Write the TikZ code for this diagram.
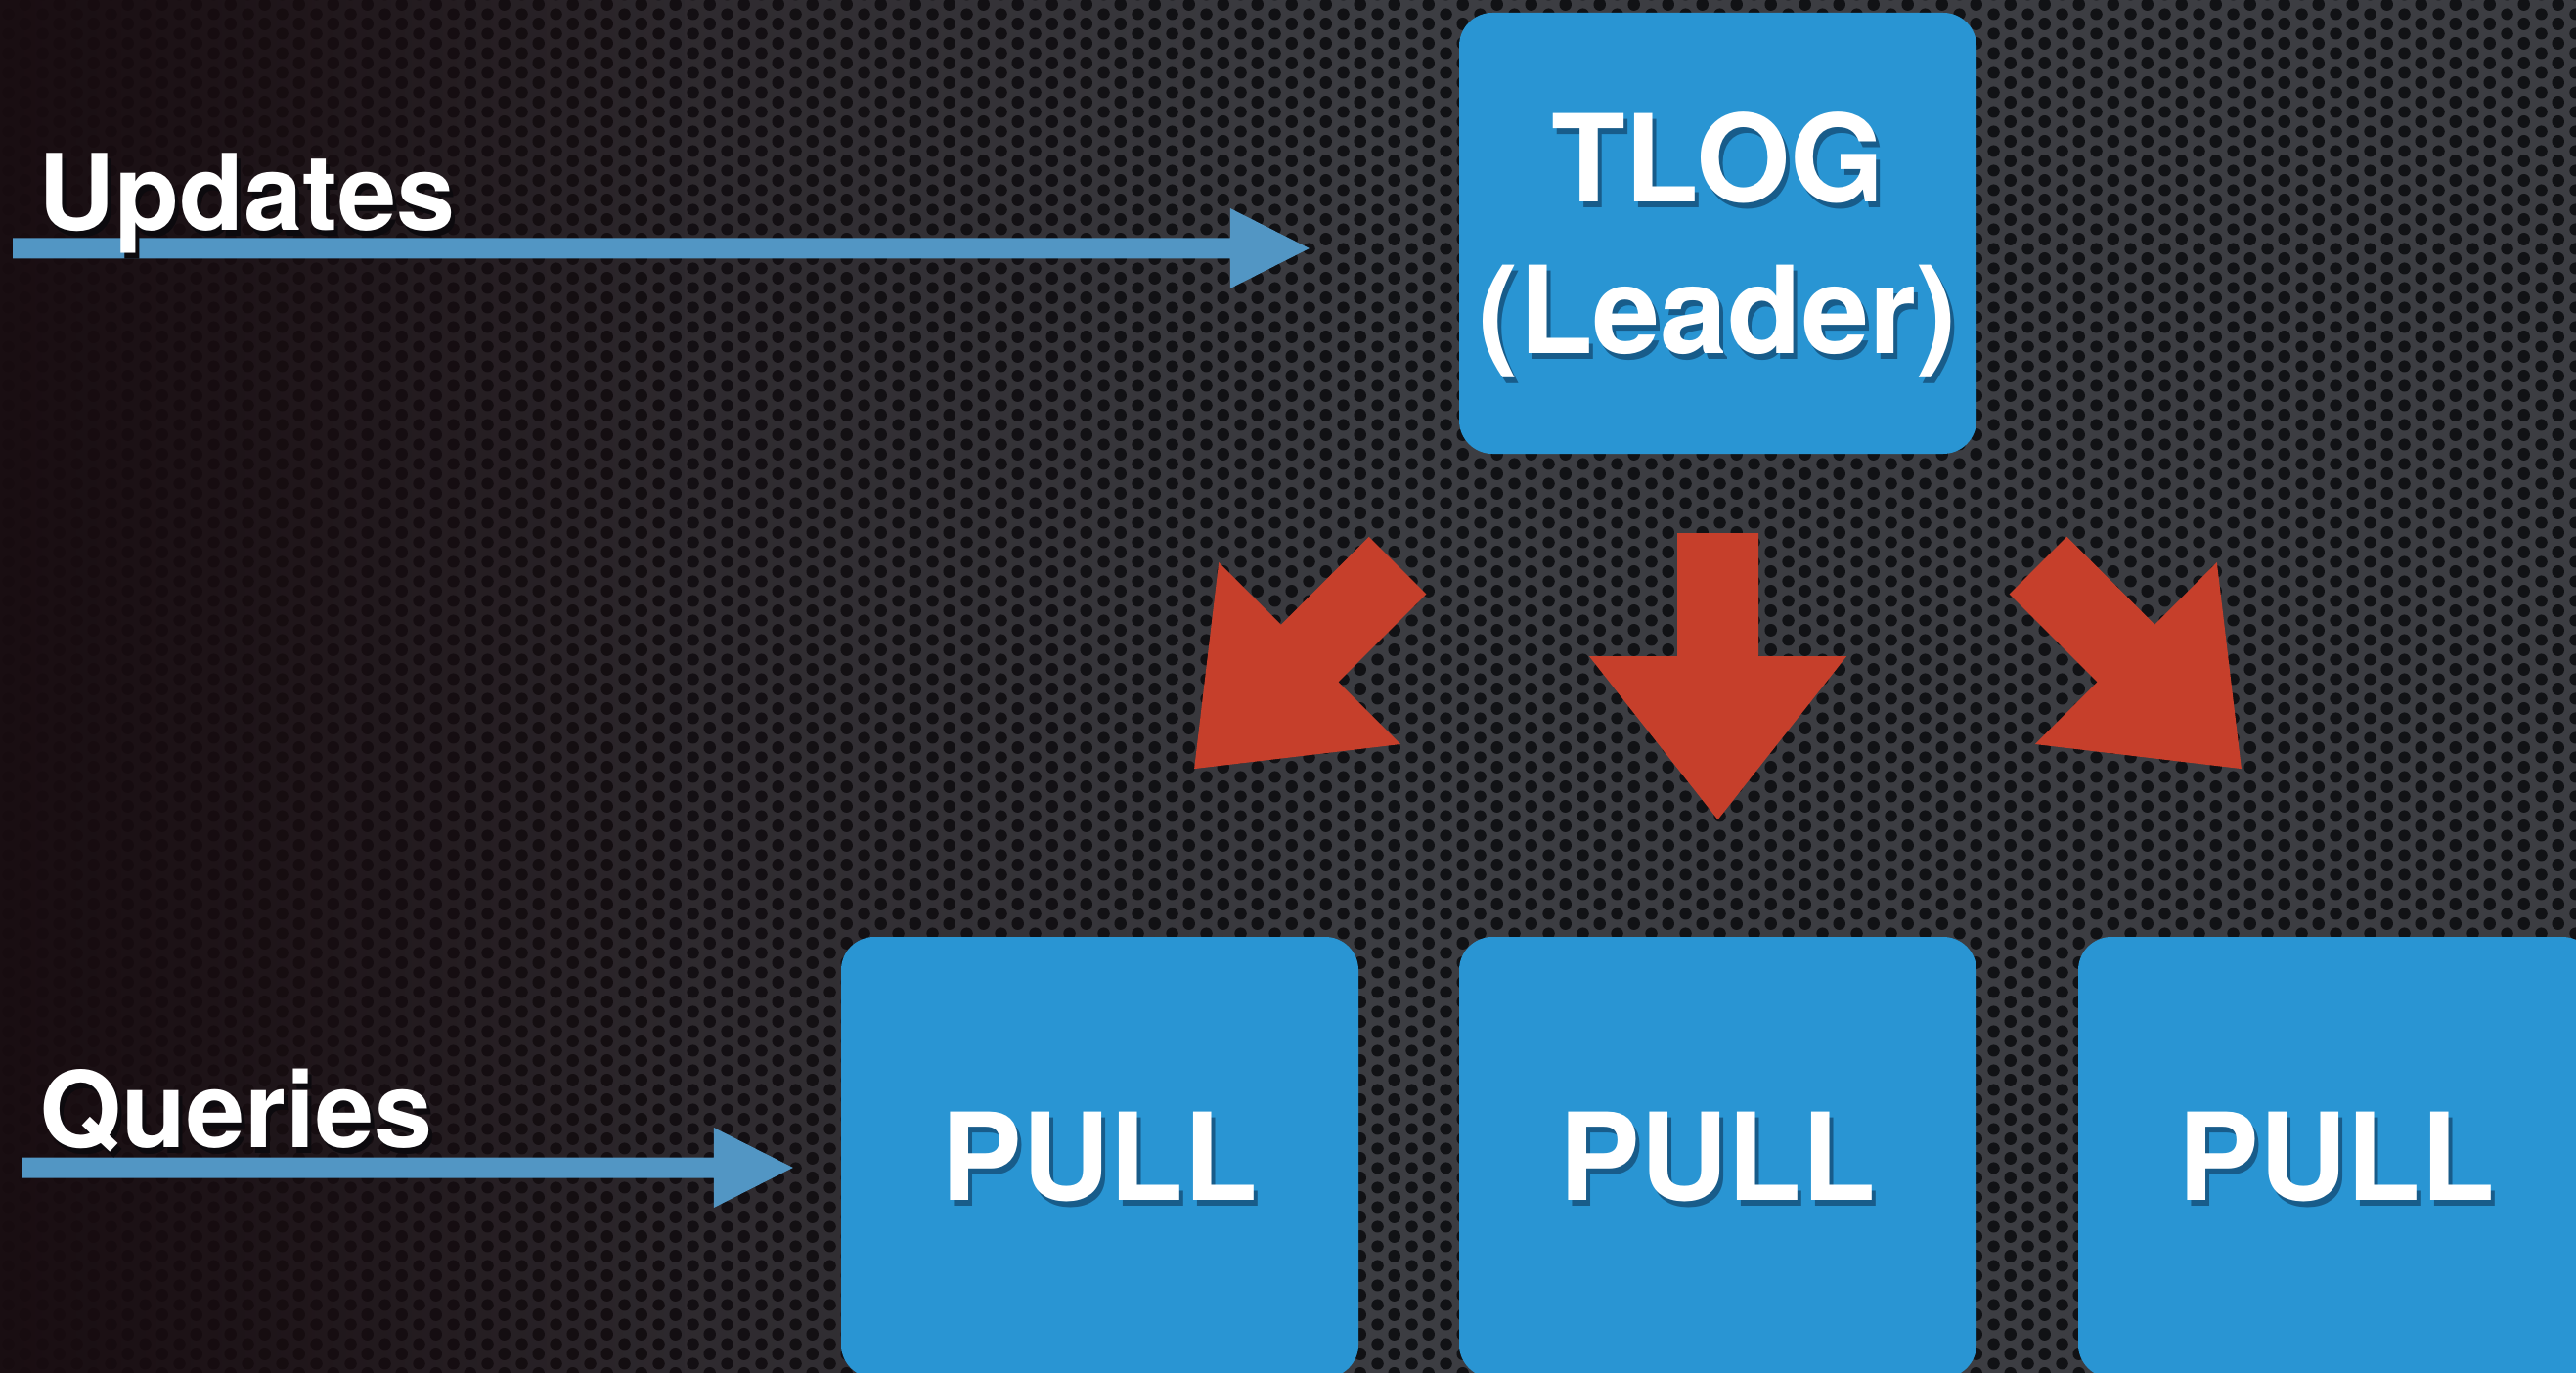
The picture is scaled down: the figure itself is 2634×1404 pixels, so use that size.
\documentclass[tikz,border=0pt]{standalone}
\usepackage{fontspec}
\setmainfont{TeX Gyre Heros}
\usetikzlibrary{calc,patterns,fadings}

\definecolor{platebase}{RGB}{60,61,66}
\definecolor{platehole}{RGB}{17,18,21}
\definecolor{shadebrown}{RGB}{24,12,16}
\definecolor{boxblue}{RGB}{41,149,211}
\definecolor{flowblue}{RGB}{82,150,196}
\definecolor{fanred}{RGB}{198,63,43}
\definecolor{boxshadow}{RGB}{24,92,138}
\definecolor{plateshadow}{RGB}{12,10,14}

% hexagonal grid of round holes (perforated metal plate)
\pgfdeclarepatternformonly{perforated}{\pgfpointorigin}{\pgfpoint{34.64pt}{20pt}}{\pgfpoint{34.64pt}{20pt}}{%
  \pgfpathcircle{\pgfpoint{8.66pt}{10pt}}{6.3pt}%
  \pgfpathcircle{\pgfpoint{25.98pt}{0pt}}{6.3pt}%
  \pgfpathcircle{\pgfpoint{25.98pt}{20pt}}{6.3pt}%
  \pgfusepath{fill}%
}

\tikzfading[name=leftdark, left color=transparent!22, right color=transparent!100]

\tikzset{
  server/.style={rectangle, rounded corners=34pt, fill=boxblue, draw=none,
    minimum width=529pt, minimum height=451pt, inner sep=0pt},
  bigword/.style={font=\bfseries\fontsize{124}{150}\selectfont, text=white,
    inner sep=0pt, anchor=base},
  sideword/.style={font=\bfseries\fontsize{108}{130}\selectfont, text=white,
    inner sep=0pt, anchor=base west},
  % straight block arrow along +x: length, shaft width, head width, head length
  pics/blockarrow/.style n args={4}{code={
    \fill (0,-#2/2) -- (#1-#4,-#2/2) -- (#1-#4,-#3/2) -- (#1,0)
      -- (#1-#4,#3/2) -- (#1-#4,#2/2) -- (0,#2/2) -- cycle;
  }},
}

% thin blue feed arrow from a source coordinate to a tip coordinate
\newcommand\feedarrow[2]{%
  \fill[flowblue] ($(#1)+(0,-10.5)$) -- ($(#2)+(-81,-10.5)$) -- ($(#2)+(-81,-41)$)
    -- (#2) -- ($(#2)+(-81,41)$) -- ($(#2)+(-81,10.5)$) -- ($(#1)+(0,10.5)$) -- cycle;}

% white lettering over a dropped shadow in the given colour
\newcommand\liftedtext[2]{%
  \makebox[0pt][l]{\kern4pt\raisebox{-6pt}{\textcolor{#1}{#2}}}#2}

\begin{document}
\begin{tikzpicture}[x=1pt, y=-1pt]
\useasboundingbox (0,0) rectangle (2634,1404);
\clip (0,0) rectangle (2634,1404);

% perforated metal backdrop, darker towards the left
\fill[platebase] (0,0) rectangle (2634,1404);
\fill[pattern=perforated, pattern color=platehole] (0,0) rectangle (2634,1404);
\fill[shadebrown, path fading=leftdark] (0,0) rectangle (1400,1404);
\fill[shadebrown, path fading=leftdark] (0,0) rectangle (700,1404);

% leader and pull servers
\node[server] (tlog)  at (1756.5,238.5) {};
\node[server] (pull1) at (1124.5,1183.5) {};
\node[server] (pull2) at (1756.5,1183.5) {};
\node[server] (pull3) at (2389.5,1183.5) {};

% red fan-out arrows from the leader
\coordinate (fanMid)   at ($(tlog.south)+(0,81)$);
\coordinate (fanLeft)  at ($(tlog.south)+(-327.5,114)$);
\coordinate (fanRight) at ($(tlog.south)+(327.5,114)$);
\pic[color=fanred, rotate=225] at (fanLeft)  {blockarrow={294}{83}{263}{167}};
\pic[color=fanred, rotate=270] at (fanMid)   {blockarrow={293}{83}{263}{167}};
\pic[color=fanred, rotate=315] at (fanRight) {blockarrow={294}{83}{263}{167}};

% incoming updates and queries
\coordinate (updSrc) at (13,254);
\coordinate (updTip) at ($(tlog.west)+(-153,15.5)$);
\coordinate (qrySrc) at (22,1194);
\coordinate (qryTip) at ($(pull1.west)+(-49,10.5)$);
\feedarrow{updSrc}{updTip}
\feedarrow{qrySrc}{qryTip}

% lettering
\node[bigword] (tlogline)   at ($(tlog.center)+(0,-31.5)$) {\liftedtext{boxshadow}{TLOG}};
\node[bigword] (leaderline) at ($(tlog.center)+(0,123.5)$) {\liftedtext{boxshadow}{(Leader)}};
\node[bigword] (pullone)    at ($(pull1.center)+(0,43.5)$) {\liftedtext{boxshadow}{PULL}};
\node[bigword] (pulltwo)    at ($(pull2.center)+(0,43.5)$) {\liftedtext{boxshadow}{PULL}};
\node[bigword] (pullthree)  at ($(pull3.center)+(0,43.5)$) {\liftedtext{boxshadow}{PULL}};
\node[sideword] (updlabel)  at (39,236) {\liftedtext{plateshadow}{Updates}};
\node[sideword] (qrylabel)  at (40,1173) {\liftedtext{plateshadow}{Queries}};
\end{tikzpicture}
\end{document}
